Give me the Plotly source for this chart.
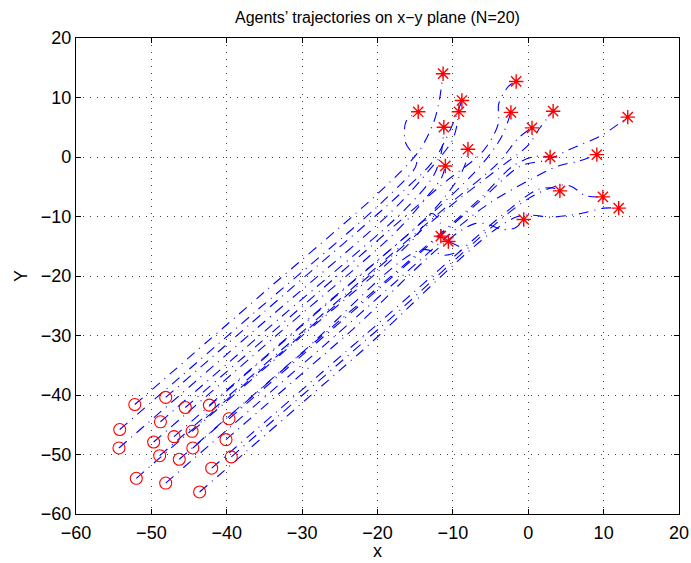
import plotly.graph_objects as go

# Start positions (red circles)
start_x = [-52.2, -48.1, -45.5, -42.3, -48.8, -39.7, -54.2, -49.7, -47.0, -44.6,
           -40.1, -54.3, -48.9, -46.3, -44.5, -39.4, -52.0, -42.0, -48.1, -43.6]
start_y = [-41.6, -40.4, -42.1, -41.7, -44.5, -44.0, -45.8, -47.9, -47.0, -46.1,
           -47.5, -48.9, -50.2, -50.8, -48.9, -50.4, -54.0, -52.3, -54.8, -56.3]

# Final positions (red stars), same agent order
end_x = [-11.3, -8.8, -1.6, -8.0, -11.2, 13.2, -14.6, -11.0, -2.3, -11.6,
         -0.6, -9.2, 0.5, -10.6, 2.9, 9.9, 3.3, 4.2, 9.1, 12.0]
end_y = [14.0, 9.5, 12.7, 1.3, 5.0, 6.7, 7.6, -1.5, 7.5, -13.3,
         -10.5, 7.6, 4.9, -14.2, 0.0, -6.7, 7.7, -5.7, 0.4, -8.6]

# Intermediate waypoints read along each trajectory
mid_x = [
    [-35.2, -19.5, -14.5, -12.5, -11.8],
    [-32.1, -17.0, -12.5, -10.2],
    [-28.0, -11.5, -6.0, -4.0, -3.9, -2.6],
    [-27.3, -13.0, -9.5, -8.3],
    [-32.8, -16.5, -12.5, -11.5],
    [-22.7, -6.5, -1.0, 2.5, 5.4, 9.8],
    [-36.2, -18.5, -14.8, -16.3, -16.2],
    [-33.7, -17.5, -13.0, -11.5],
    [-29.0, -11.5, -6.0, -3.5],
    [-29.6, -15.0, -12.8, -11.7],
    [-24.1, -7.1, -3.2, -1.7],
    [-36.3, -18.0, -13.0, -10.0],
    [-29.9, -11.0, -4.0, -1.3],
    [-30.3, -14.3, -11.0, -8.8],
    [-25.5, -6.5, -2.0, 0.9],
    [-19.4, 0.0, 4.5, 5.8, 7.6],
    [-31.0, -10.5, -4.0, 0.0, 1.6],
    [-22.0, -2.5, 1.2, 3.2],
    [-27.1, -6.1, 0.0, 4.0, 6.7],
    [-22.6, -1.6, 3.2, 7.0, 10.0],
]
mid_y = [
    [-22.9, -5.6, 1.0, 6.0, 9.5],
    [-22.8, -6.2, -0.5, 5.0],
    [-22.9, -4.7, 1.0, 5.5, 9.0, 11.9],
    [-25.2, -9.5, -4.0, -1.0],
    [-26.9, -9.0, -3.0, 1.0],
    [-25.3, -7.5, -1.5, -0.5, 1.2, 3.7],
    [-26.0, -6.5, -1.0, 2.5, 6.0],
    [-30.3, -12.5, -6.0, -3.5],
    [-27.2, -8.0, -1.0, 3.5],
    [-29.6, -13.5, -9.5, -11.0],
    [-29.9, -11.2, -12.2, -11.9],
    [-29.1, -9.0, -2.0, 3.0],
    [-29.3, -8.5, -1.0, 3.2],
    [-33.2, -15.6, -16.5, -15.5],
    [-28.0, -7.1, -1.5, 0.1],
    [-28.4, -7.0, -4.7, -5.0, -6.5],
    [-30.9, -8.4, -2.0, 2.0, 5.0],
    [-30.3, -8.8, -5.5, -5.2],
    [-31.7, -8.6, -4.0, -1.5, -0.7],
    [-33.2, -10.1, -10.1, -9.5, -8.6],
]

x_ticks = [-60, -50, -40, -30, -20, -10, 0, 10, 20]
y_ticks = [-60, -50, -40, -30, -20, -10, 0, 10, 20]

FONT = "Liberation Sans, Arial, Helvetica, sans-serif"

fig = go.Figure()
for i in range(len(start_x)):
    xs = [start_x[i]] + mid_x[i] + [end_x[i]]
    ys = [start_y[i]] + mid_y[i] + [end_y[i]]
    fig.add_trace(go.Scatter(
        x=xs, y=ys, mode="lines",
        line=dict(color="#0000ff", width=1.1, dash="10px,6px,1px,6px",
                  shape="spline", smoothing=0.9),
        hoverinfo="skip", showlegend=False))

fig.add_trace(go.Scatter(
    x=start_x, y=start_y, mode="markers", showlegend=False,
    marker=dict(symbol="circle-open", size=12, color="#ff0000",
                line=dict(width=1.1, color="#ff0000"))))
fig.add_trace(go.Scatter(
    x=end_x, y=end_y, mode="markers", showlegend=False,
    marker=dict(symbol="asterisk-open", size=12, color="#ff0000",
                line=dict(width=1.4, color="#ff0000"))))

axis_common = dict(
    ticks="inside", ticklen=5, tickcolor="black", tickwidth=1,
    showline=True, linecolor="black", linewidth=1.3, mirror="ticks",
    showgrid=True, gridcolor="#444444", gridwidth=1, griddash="1px,6px",
    zeroline=False, automargin=False,
    tickfont=dict(family=FONT, size=18, color="black"),
)

fig.update_layout(
    width=691, height=563, autosize=False,
    margin=dict(l=76, r=12, t=38, b=49, pad=0),
    paper_bgcolor="white", plot_bgcolor="white",
    font=dict(family=FONT, color="black"),
    xaxis=dict(range=[-60, 20], tickvals=x_ticks, ticklabelstandoff=2, **axis_common),
    yaxis=dict(range=[-60, 20], tickvals=y_ticks, ticklabelstandoff=0, **axis_common),
    annotations=[
        dict(text="Agents\u2019 trajectories on x\u2212y plane (N=20)",
             xref="paper", yref="paper", x=0.5, y=1.0, yshift=21,
             xanchor="center", yanchor="middle", showarrow=False,
             font=dict(family=FONT, size=16, color="black")),
        dict(text="x", xref="paper", yref="paper", x=0.5, y=0, yshift=-37,
             xanchor="center", yanchor="middle", showarrow=False,
             font=dict(family=FONT, size=18, color="black")),
        dict(text="Y", xref="paper", yref="paper", x=0, xshift=-55, y=0.5,
             xanchor="center", yanchor="middle", showarrow=False, textangle=-90,
             font=dict(family=FONT, size=18, color="black")),
    ],
)

fig.write_html("out.html")
